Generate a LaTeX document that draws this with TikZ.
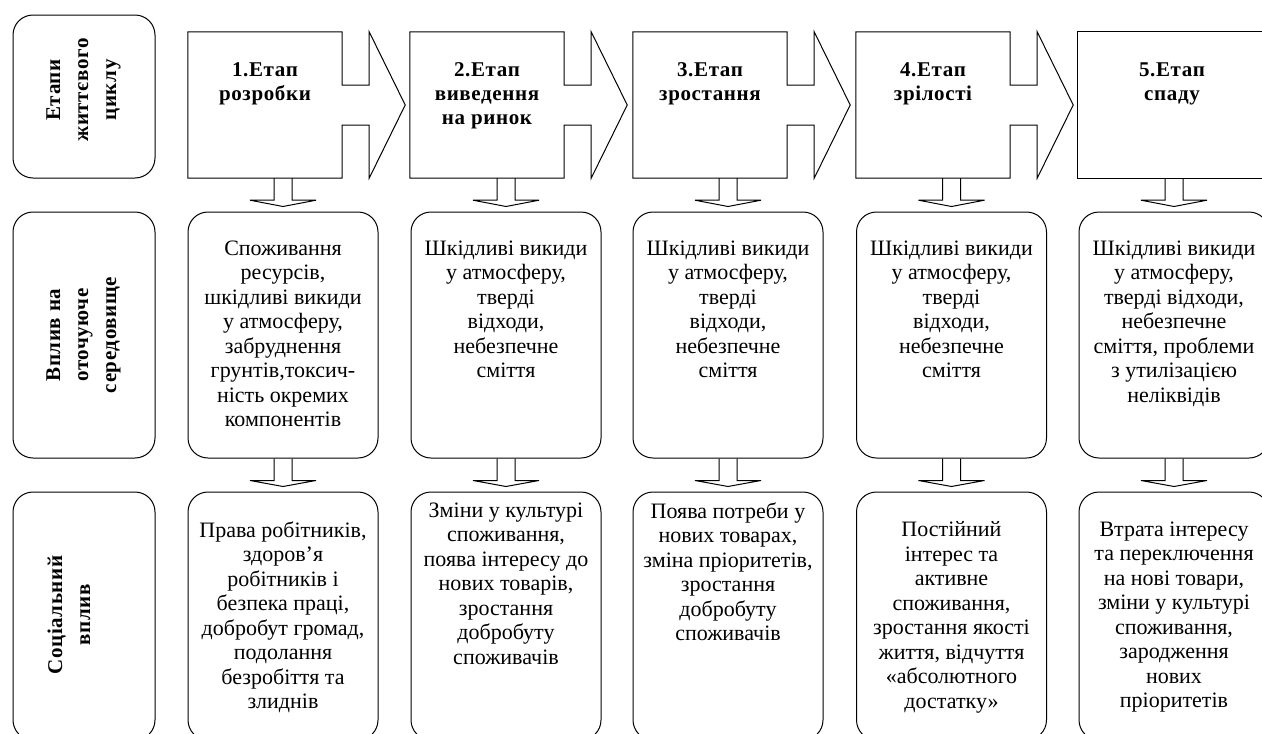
\documentclass[tikz,border=0pt]{standalone}
\usepackage{fontspec}
\setmainfont{Liberation Serif}
\newfontfamily\hdfont[LetterSpace=3]{Liberation Serif}
\usetikzlibrary{calc}
\tikzset{
  lbl/.style={draw, line width=1pt, rounded corners=20pt, minimum width=142pt, inner sep=0pt},
  rbox/.style={draw, line width=1pt, rounded corners=20pt, minimum width=190pt, inner sep=0pt},
  txt/.style={font=\fontsize{22}{24.5}\selectfont, align=center, inner sep=0pt, anchor=north},
  stagehead/.style={font=\hdfont\bfseries\fontsize{21}{24}\selectfont, align=center, inner sep=0pt, anchor=north},
  vlab/.style={font=\hdfont\bfseries\fontsize{21}{28}\selectfont, align=center, inner sep=0pt, rotate=90},
  stagebody/.style={draw=none, minimum width=154pt, minimum height=146pt, inner sep=0pt},
  blk/.style={draw, line width=1pt, line join=miter},
}
\newcommand\stagearrow[1]{%
  \draw[blk] (#1.north west) -- (#1.north east) -- ($(#1.east)+(0,-20)$) -- ++(27,0)
    -- ($(#1.north east)+(27,0)$) -- ($(#1.east)+(63,0)$) -- ($(#1.south east)+(27,0)$)
    -- ($(#1.east)+(27,20)$) -- ($(#1.east)+(0,20)$) -- (#1.south east) -- (#1.south west) -- cycle;}
\newcommand\hollowdown[2]{%
  \draw[blk] ($(#2.north |- #1.south)+(-9,0)$) -- ++(0,22) -- ++(-24,0)
    -- ($(#2.north)+(0,-5)$) -- ($(#2.north |- #1.south)+(33,22)$) -- ++(-24,0) -- ++(0,-22);}
\begin{document}
\begin{tikzpicture}[x=1pt,y=-1pt]
\useasboundingbox (0,0) rectangle (1262,734);
\clip (0,0) rectangle (1262,734);

% left column
\node[lbl, minimum height=163pt] (l1) at (84,96.5) {};
\node[lbl, minimum height=246pt] (l2) at (84,335) {};
\node[lbl, minimum height=248pt] (l3) at (84,616) {};
\node[vlab] (l1t) at (83.5,90) {Етапи\\життєвого\\циклу};
\node[vlab] (l2t) at (83.5,335) {Вплив на\\оточуюче\\середовище};
\node[vlab] (l3t) at (69,615) {Соціальний\\вплив};

% stages
\node[stagebody] (s1) at (265,105) {};
\node[stagebody] (s2) at (487,105) {};
\node[stagebody] (s3) at (710,105) {};
\node[stagebody] (s4) at (933,105) {};
\node[stagebody, minimum width=192pt] (s5) at (1174,105) {};
\stagearrow{s1}
\stagearrow{s2}
\stagearrow{s3}
\stagearrow{s4}
\draw[blk] (s5.north west) rectangle (s5.south east);
\node[stagehead] (s1t) at ($(s1.north)+(0,30.5)$) {1.Етап\\розробки};
\node[stagehead] (s2t) at ($(s2.north)+(0,30.5)$) {2.Етап\\виведення\\на ринок};
\node[stagehead] (s3t) at ($(s3.north)+(0,30.5)$) {3.Етап\\зростання};
\node[stagehead] (s4t) at ($(s4.north)+(0,30.5)$) {4.Етап\\зрілості};
\node[stagehead] (s5t) at ($(s5.north)+(-2,30.5)$) {5.Етап\\спаду};

% environmental impact row
\node[rbox, minimum height=246pt] (e1) at (283,335) {};
\node[rbox, minimum height=246pt] (e2) at (506,335) {};
\node[rbox, minimum height=246pt] (e3) at (728,335) {};
\node[rbox, minimum height=246pt] (e4) at (951.5,335) {};
\node[rbox, minimum height=246pt] (e5) at (1174,335) {};
\node[txt] (e1t) at ($(e1.north)+(0,29)$) {Споживання\\ресурсів,\\шкідливі викиди\\у атмосферу,\\забруднення\\грунтів,токсич-\\ність окремих\\компонентів};
\node[txt] (e2t) at ($(e2.north)+(0,29)$) {Шкідливі викиди\\у атмосферу,\\тверді\\відходи,\\небезпечне\\сміття};
\node[txt] (e3t) at ($(e3.north)+(0,29)$) {Шкідливі викиди\\у атмосферу,\\тверді\\відходи,\\небезпечне\\сміття};
\node[txt] (e4t) at ($(e4.north)+(0,29)$) {Шкідливі викиди\\у атмосферу,\\тверді\\відходи,\\небезпечне\\сміття};
\node[txt] (e5t) at ($(e5.north)+(0,29)$) {Шкідливі викиди\\у атмосферу,\\тверді відходи,\\небезпечне\\сміття, проблеми\\з утилізацією\\неліквідів};

% social impact row
\node[rbox, minimum height=248pt] (c1) at (283,616) {};
\node[rbox, minimum height=248pt] (c2) at (506,616) {};
\node[rbox, minimum height=248pt] (c3) at (728,616) {};
\node[rbox, minimum height=248pt] (c4) at (951.5,616) {};
\node[rbox, minimum height=248pt] (c5) at (1174,616) {};
\node[txt] (c1t) at ($(c1.north)+(0,30)$) {Права робітників,\\здоров’я\\робітників і\\безпека праці,\\добробут громад,\\подолання\\безробіття та\\злиднів};
\node[txt] (c2t) at ($(c2.north)+(0,11)$) {Зміни у культурі\\споживання,\\поява інтересу до\\нових товарів,\\зростання\\добробуту\\споживачів};
\node[txt] (c3t) at ($(c3.north)+(0,11)$) {Поява потреби у\\нових товарах,\\зміна пріоритетів,\\зростання\\добробуту\\споживачів};
\node[txt] (c4t) at ($(c4.north)+(0,30)$) {Постійний\\інтерес та\\активне\\споживання,\\зростання якості\\життя, відчуття\\«абсолютного\\достатку»};
\node[txt] (c5t) at ($(c5.north)+(0,30)$) {Втрата інтересу\\та переключення\\на нові товари,\\зміни у культурі\\споживання,\\зародження\\нових\\пріоритетів};

% hollow down arrows
\hollowdown{s1}{e1}
\hollowdown{s2}{e2}
\hollowdown{s3}{e3}
\hollowdown{s4}{e4}
\hollowdown{s5}{e5}
\hollowdown{e1}{c1}
\hollowdown{e2}{c2}
\hollowdown{e3}{c3}
\hollowdown{e4}{c4}
\hollowdown{e5}{c5}
\end{tikzpicture}
\end{document}
